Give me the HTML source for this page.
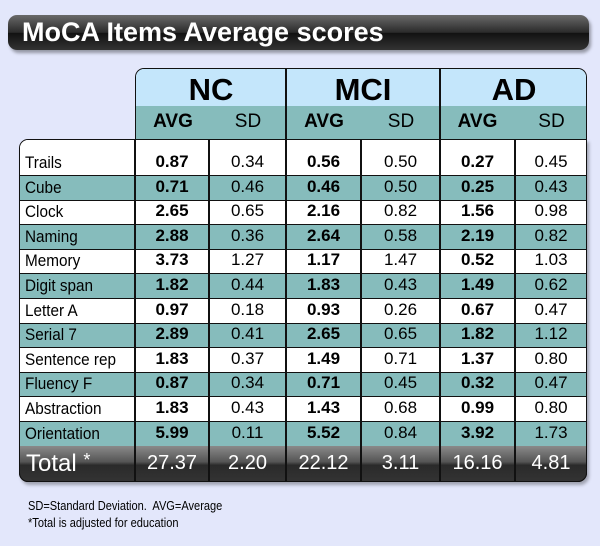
<!DOCTYPE html>
<html><head><style>
body{margin:0;width:600px;height:546px;background:#e3e7fb;font-family:"Liberation Sans",sans-serif;position:relative;overflow:hidden}
.a{position:absolute}
.title{left:8px;top:15px;width:581px;height:35px;border-radius:9px;background:linear-gradient(#6a6a6a,#2a2a2a 50%,#111 52%,#333);box-shadow:2px 3px 3px rgba(0,0,0,.35);color:#fff;font-weight:bold;font-size:27px;line-height:35px;padding-left:14px;box-sizing:border-box}
.hdr{left:135px;top:68px;width:452px;height:71px;border:1.5px solid #111;border-bottom:none;border-radius:9px 9px 0 0;overflow:hidden;box-sizing:border-box}
.tbl{left:19px;top:139px;width:568px;height:343px;border:1.5px solid #111;border-radius:9px 0 9px 9px;overflow:hidden;box-sizing:border-box;background:#fff;box-shadow:2px 3px 3px rgba(0,0,0,.3)}
.row{position:absolute;left:0;width:100%;font-size:17px;color:#000}
.row span{position:absolute}
.vl{position:absolute;top:0;width:1.5px;background:#111}
.c{position:absolute;text-align:center}
</style></head><body>
<div class="a title">MoCA Items Average scores</div>
<div class="a hdr">
 <div class="a" style="left:0;top:0;width:100%;height:37px;background:#c4e6fb"></div>
 <div class="a" style="left:0;top:37px;width:100%;height:34px;background:#86bcbc"></div>
 <div class="vl" style="left:149px;height:71px"></div>
 <div class="vl" style="left:303px;height:71px"></div>
 <div class="c" style="left:0;width:150px;top:3px;font-size:31px;font-weight:bold">NC</div>
 <div class="c" style="left:150px;width:154px;top:3px;font-size:31px;font-weight:bold">MCI</div>
 <div class="c" style="left:304px;width:148px;top:3px;font-size:31px;font-weight:bold">AD</div>
 <div class="c" style="left:0;width:74px;top:42px;font-size:19px;font-weight:bold">AVG</div>
 <div class="c" style="left:74px;width:76px;top:42px;font-size:19px">SD</div>
 <div class="c" style="left:150px;width:76px;top:42px;font-size:19px;font-weight:bold">AVG</div>
 <div class="c" style="left:226px;width:78px;top:42px;font-size:19px">SD</div>
 <div class="c" style="left:304px;width:75px;top:42px;font-size:19px;font-weight:bold">AVG</div>
 <div class="c" style="left:379px;width:73px;top:42px;font-size:19px">SD</div>
</div>
<div class="a tbl" id="t"></div>
<div class="a" style="left:28px;top:497px;font-size:13px;line-height:17px;transform:scaleX(.85);transform-origin:left">SD=Standard Deviation.&nbsp; AVG=Average<br>*Total is adjusted for education</div>
<div class="a" id="cells"></div>
<script>
var d=[["Trails","0.87","0.34","0.56","0.50","0.27","0.45"],["Cube","0.71","0.46","0.46","0.50","0.25","0.43"],["Clock","2.65","0.65","2.16","0.82","1.56","0.98"],["Naming","2.88","0.36","2.64","0.58","2.19","0.82"],["Memory","3.73","1.27","1.17","1.47","0.52","1.03"],["Digit span","1.82","0.44","1.83","0.43","1.49","0.62"],["Letter A","0.97","0.18","0.93","0.26","0.67","0.47"],["Serial 7","2.89","0.41","2.65","0.65","1.82","1.12"],["Sentence rep","1.83","0.37","1.49","0.71","1.37","0.80"],["Fluency F","0.87","0.34","0.71","0.45","0.32","0.47"],["Abstraction","1.83","0.43","1.43","0.68","0.99","0.80"],["Orientation","5.99","0.11","5.52","0.84","3.92","1.73"]];
var h="";
for(var i=0;i<12;i++){var ry=i==0?0:35+(i-1)*24.6,rh=i==0?35:24.6;
var bg=i%2?"#86bcbc":"#fff";
h+='<div class="row" style="top:'+ry+'px;height:'+rh+'px;background:'+bg+';border-top:'+(i?'1.5px solid #111':'none')+';box-sizing:border-box"><span style="left:5px;bottom:2px;transform:scaleX(.9);transform-origin:left;white-space:nowrap">'+d[i][0]+'</span></div>';}
document.getElementById('t').innerHTML=h;
var cx=[135,209,286,361,440,515,587],o="";
for(var i=0;i<12;i++){var yy=139+(i==0?0:35+(i-1)*24.6),hh=i==0?35:24.6;
for(var j=1;j<7;j++){o+='<div class="a" style="left:'+cx[j-1]+'px;width:'+(cx[j]-cx[j-1])+'px;top:'+(yy+hh-22)+'px;text-align:center;font-size:17px;'+(j%2?'font-weight:bold':'')+'">'+d[i][j]+'</div>';}}
var tot=["27.37","2.20","22.12","3.11","16.16","4.81"];
o+='<div class="a" style="left:19px;top:446px;width:568px;height:36px;background:linear-gradient(#8a8a8a,#555 45%,#2a2a2a 55%,#333);border-radius:0 0 9px 9px;border:1.5px solid #111;border-top:none;box-sizing:border-box"></div>';
o+='<div class="a" style="left:26px;top:450px;color:#fff;font-size:24px">Total <span style="font-size:18px;vertical-align:top">*</span></div>';
for(var j=0;j<6;j++)o+='<div class="a" style="left:'+cx[j]+'px;width:'+(cx[j+1]-cx[j])+'px;top:452px;text-align:center;color:#fff;font-size:20px">'+tot[j]+'</div>';
for(var j=0;j<6;j++)o+='<div class="a" style="left:'+(cx[j]-1)+'px;top:139px;width:1.5px;height:343px;background:#111"></div>';
document.getElementById('cells').outerHTML=o;
</script>
</body></html>
